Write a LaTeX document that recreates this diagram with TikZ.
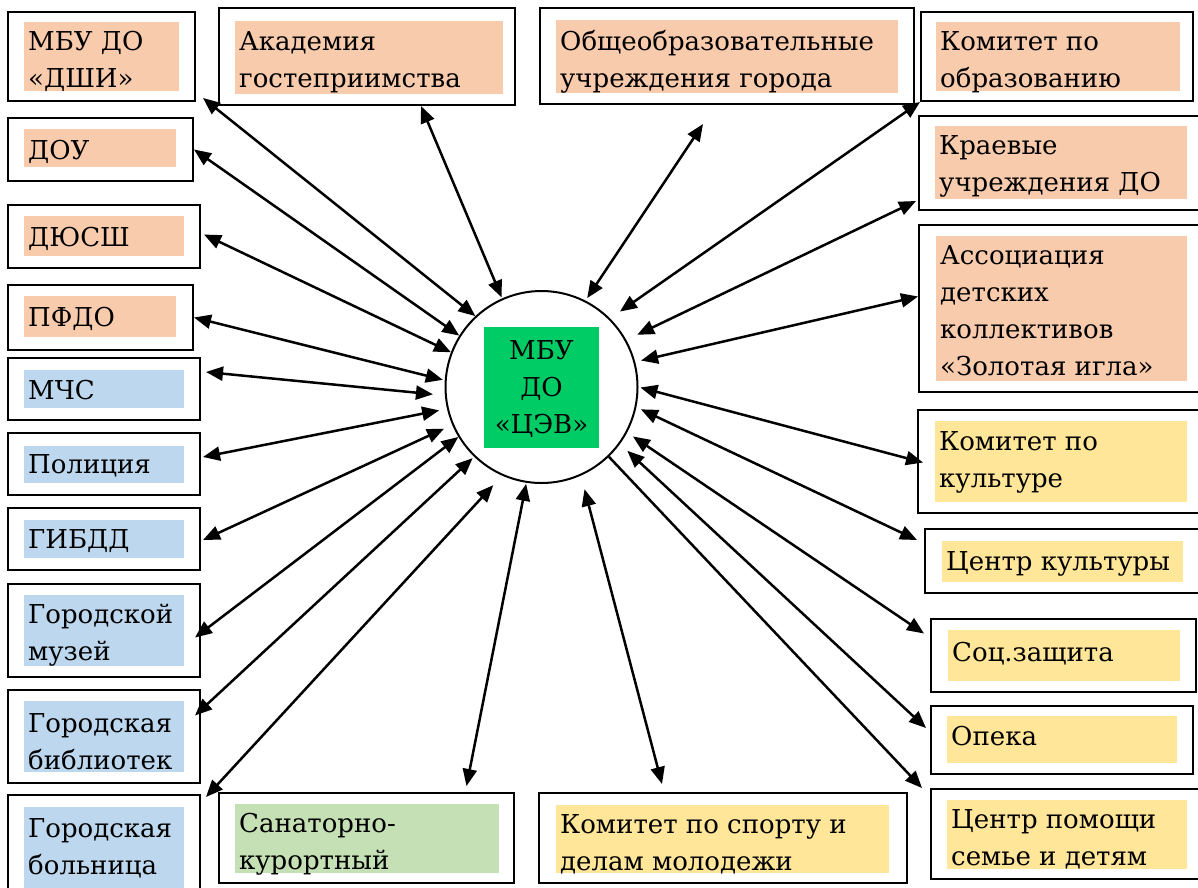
\documentclass[tikz,border=0pt]{standalone}
\usepackage{fontspec}
\setmainfont{DejaVu Serif}
\usetikzlibrary{arrows.meta,fit}
\definecolor{peach}{HTML}{F8CBAD}
\definecolor{skyblue}{HTML}{BDD7EE}
\definecolor{sand}{HTML}{FFE699}
\definecolor{sage}{HTML}{C5E0B4}
\definecolor{cevgreen}{RGB}{0,204,102}

\begin{document}
\begin{tikzpicture}[x=1pt,y=-1pt,
  box/.style={draw,line width=2pt,inner sep=0pt},
  hlpeach/.style={fill=peach,inner sep=0pt},
  hlblue/.style={fill=skyblue,inner sep=0pt},
  hlsand/.style={fill=sand,inner sep=0pt},
  hlsage/.style={fill=sage,inner sep=0pt},
  txt/.style={anchor=base west,inner sep=0pt,align=left,font=\fontsize{26}{37}\selectfont},
  link/.style={{Triangle[length=17pt,width=14pt]}-{Triangle[length=17pt,width=14pt]},line width=2.5pt},
  onelink/.style={-{Triangle[length=17pt,width=14pt]},line width=2.5pt}]
\useasboundingbox (0,0) rectangle (1198,887);

% left column (text placed at baseline of last line)
\node[box,fit={(8,12) (195,101)}]	(dshi)	{};
\node[hlpeach,fit={(24,22) (179,91)}]	(dshi-bg)	{};
\node[txt]	(dshi-t)	at (28,87)	{МБУ ДО\\«ДШИ»};
\node[box,fit={(8,118) (193,181)}]	(dou)	{};
\node[hlpeach,fit={(24,129) (176,167)}]	(dou-bg)	{};
\node[txt]	(dou-t)	at (28,159)	{ДОУ};
\node[box,fit={(8,205) (200,268)}]	(dyussh)	{};
\node[hlpeach,fit={(24,216) (184,256)}]	(dyussh-bg)	{};
\node[txt]	(dyussh-t)	at (28,246)	{ДЮСШ};
\node[box,fit={(8,285) (193,350)}]	(pfdo)	{};
\node[hlpeach,fit={(24,296) (176,337)}]	(pfdo-bg)	{};
\node[txt]	(pfdo-t)	at (28,326)	{ПФДО};
\node[box,fit={(8,358) (200,420)}]	(mchs)	{};
\node[hlblue,fit={(24,370) (184,408)}]	(mchs-bg)	{};
\node[txt]	(mchs-t)	at (28,399)	{МЧС};
\node[box,fit={(8,433) (200,495)}]	(police)	{};
\node[hlblue,fit={(24,446) (184,483)}]	(police-bg)	{};
\node[txt]	(police-t)	at (28,473)	{Полиция};
\node[box,fit={(8,508) (200,570)}]	(gibdd)	{};
\node[hlblue,fit={(24,520) (184,558)}]	(gibdd-bg)	{};
\node[txt]	(gibdd-t)	at (28,548)	{ГИБДД};
\node[box,fit={(8,584) (200,677)}]	(museum)	{};
\node[hlblue,fit={(24,595) (184,666)}]	(museum-bg)	{};
\node[txt]	(museum-t)	at (28,660)	{Городской\\музей};
\node[box,fit={(8,690) (200,783)}]	(library)	{};
\node[hlblue,fit={(24,701) (184,772)}]	(library-bg)	{};
\node[txt]	(library-t)	at (28,769)	{Городская\\библиотек};
\node[box,fit={(8,795) (200,900)}]	(hospital)	{};
\node[hlblue,fit={(24,807) (184,900)}]	(hospital-bg)	{};
\node[txt]	(hospital-t)	at (28,874)	{Городская\\больница};

% top row
\node[box,fit={(219,8) (515,105)}]	(academy)	{};
\node[hlpeach,fit={(235,21) (503,94)}]	(academy-bg)	{};
\node[txt]	(academy-t)	at (239,87)	{Академия\\гостеприимства};
\node[box,fit={(540,8) (914,104)}]	(school)	{};
\node[hlpeach,fit={(556,20) (898,93)}]	(school-bg)	{};
\node[txt]	(school-t)	at (560,87)	{Общеобразовательные\\учреждения города};
\node[box,fit={(921,12) (1193,101)}]	(komobr)	{};
\node[hlpeach,fit={(936,22) (1180,91)}]	(komobr-bg)	{};
\node[txt]	(komobr-t)	at (940,87)	{Комитет по\\образованию};

% right column
\node[box,fit={(919,116) (1200,210)}]	(kraev)	{};
\node[hlpeach,fit={(935,126) (1187,199)}]	(kraev-bg)	{};
\node[txt]	(kraev-t)	at (939,191)	{Краевые\\учреждения ДО};
\node[box,fit={(919,225) (1200,392)}]	(assoc)	{};
\node[hlpeach,fit={(936,236) (1187,381)}]	(assoc-bg)	{};
\node[txt]	(assoc-t)	at (940,375)	{Ассоциация\\детских\\коллективов\\«Золотая игла»};
\node[box,fit={(918,410) (1200,513)}]	(kult)	{};
\node[hlsand,fit={(935,421) (1187,502)}]	(kult-bg)	{};
\node[txt]	(kult-t)	at (939,487)	{Комитет по\\культуре};
\node[box,fit={(925,529) (1200,593)}]	(ckult)	{};
\node[hlsand,fit={(942,541) (1183,582)}]	(ckult-bg)	{};
\node[txt]	(ckult-t)	at (946,570)	{Центр культуры};
\node[box,fit={(931,619) (1196,692)}]	(soc)	{};
\node[hlsand,fit={(948,630) (1180,681)}]	(soc-bg)	{};
\node[txt]	(soc-t)	at (952,661)	{Соц.защита};
\node[box,fit={(931,706) (1193,774)}]	(opeka)	{};
\node[hlsand,fit={(947,716) (1177,763)}]	(opeka-bg)	{};
\node[txt]	(opeka-t)	at (951,745)	{Опека};
\node[box,fit={(931,789) (1200,879)}]	(cpom)	{};
\node[hlsand,fit={(947,800) (1187,869)}]	(cpom-bg)	{};
\node[txt]	(cpom-t)	at (951,865)	{Центр помощи\\семье и детям};

% bottom row
\node[box,fit={(219,793) (514,883)}]	(sanat)	{};
\node[hlsage,fit={(235,804) (499,873)}]	(sanat-bg)	{};
\node[txt]	(sanat-t)	at (239,869)	{Санаторно-\\курортный};
\node[box,fit={(539,793) (907,883)}]	(sport)	{};
\node[hlsand,fit={(556,805) (889,873)}]	(sport-bg)	{};
\node[txt]	(sport-t)	at (560,870)	{Комитет по спорту и\\делам молодежи};

% centre
\node[draw,circle,line width=2pt,minimum size=192pt,inner sep=0pt]	(cev)	at (541.5,387)	{};
\node[fill=cevgreen,inner sep=0pt,fit={(484,327) (599,448)}]	(cev-bg)	{};
\node[inner sep=0pt,align=center,font=\fontsize{26}{37}\selectfont]	(cev-t)	at (541.5,389)	{МБУ\\ДО\\«ЦЭВ»};

\path[link]	(cev.133)	edge	([shift={(7,-4)}]dshi.south east)
		(cev.148)	edge	(dou.east)
		(cev.159)	edge	([shift={(3,-2)}]dyussh.east)
		(cev.176)	edge	[shorten <=2pt]	(pfdo.east)
		(cev.185)	edge	[shorten <=12pt]	([shift={(5,-17)}]mchs.east)
		(cev.193)	edge	[shorten <=8pt]	([shift={(2,-7)}]police.east)
		(cev.203)	edge	[shorten <=9pt]	([shift={(2,1)}]gibdd.east)
		(cev.211)	edge	([shift={(-6,7)}]museum.east)
		(cev.226)	edge	[shorten <=2pt]	([shift={(-6,-21)}]library.east)
		(cev.246)	edge	[shorten <=13pt]	([shift={(5,3)}]hospital.north east)
		(cev.261)	edge	[shorten <=1pt]	([shift={(100,-6)}]sanat.north)
		(cev.294)	edge	[shorten <=14pt]	([shift={(-61,-8)}]sport.north)
		(cev.324)	edge	[shorten <=10pt]	([shift={(-4,-12)}]opeka.west)
		(cev.332)	edge	[shorten <=7pt]	([shift={(-6,-22)}]soc.west)
		(cev.348)	edge	[shorten <=5pt]	([shift={(-7,-21)}]ckult.west)
		(cev.0)	edge	[shorten <=2pt]	([shift={(6,1)}]kult.west)
		(cev.15)	edge	[shorten <=6pt]	([shift={(0,-12)}]assoc.west)
		(cev.29)	edge	[shorten <=12pt]	([shift={(-2,-10)}]kraev.south west)
		(cev.45)	edge	[shorten <=12pt]	(komobr.south west)
		(cev.63)	edge	[shorten <=3pt]	([shift={(-24,19)}]school.south)
		(cev.114)	edge	[shorten <=1pt]	([shift={(54,0)}]academy.south);
\path[onelink]	(cev.314)	edge	([shift={(-8,0)}]cpom.north west);
\end{tikzpicture}
\end{document}
